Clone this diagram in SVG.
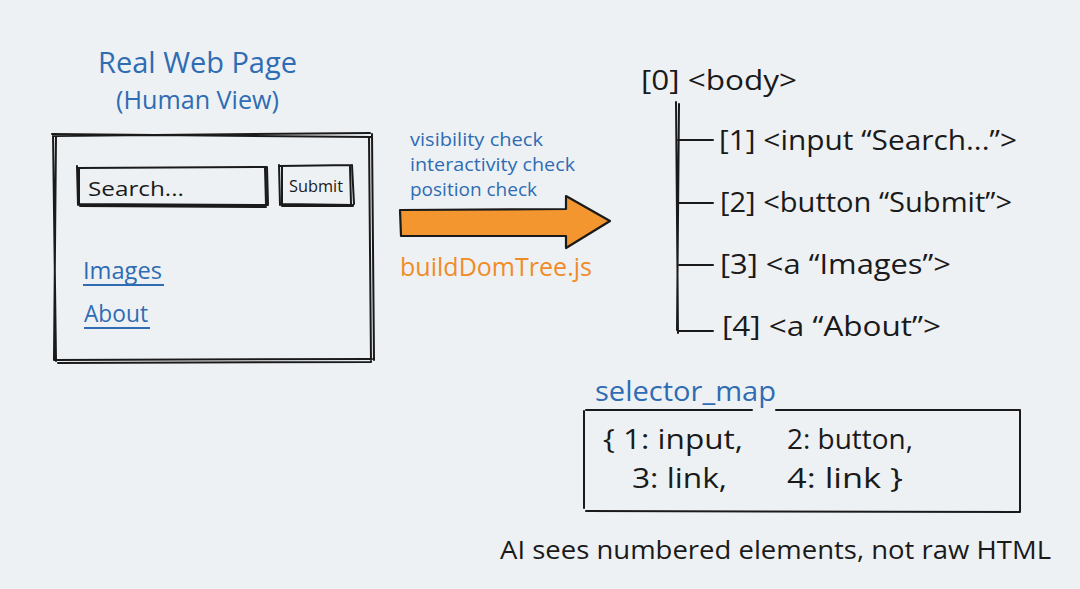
<svg xmlns="http://www.w3.org/2000/svg" width="1080" height="589" viewBox="0 0 1080 589">
<style>
.ink{fill:none;stroke:#1a1a1a;stroke-width:2;stroke-linecap:round;stroke-linejoin:round}
.t{font-family:"Open Sans","DejaVu Sans",sans-serif;fill:#1a1a1a}
.b{fill:#2f6cb3}
.o{fill:#f08c28}
</style>
<rect width="1080" height="589" fill="#eef1f4"/>
<g id="title">
<text class="t b" x="98" y="73" font-size="29" textLength="199" lengthAdjust="spacingAndGlyphs">Real Web Page</text>
<text class="t b" x="116" y="109" font-size="25" textLength="163" lengthAdjust="spacingAndGlyphs">(Human View)</text>
</g>
<g id="page">
<path class="ink" d="M54,136 L370,133 M52,134 L371,137 M53,134 L56,361 M56,135 L54,360 M372,134 L374,360 M369,137 L371,362 M55,360 L372,359 M58,363 L371,362"/>
<g id="searchbox">
<path class="ink" d="M78,168 L266,167 M77,166 L78,205 M79,168 L79,204 M267,167 L268,204 M265,168 L266,205 M78,204 L268,205 M80,206 L266,207"/>
<text class="t" x="88" y="196" font-size="20" textLength="96" lengthAdjust="spacingAndGlyphs">Search...</text>
</g>
<g id="submit">
<path class="ink" d="M280,166 L352,165 M279,165 L280,205 M282,167 L282,204 M352,165 L354,204 M350,167 L351,204 M281,204 L353,205 M282,206 L353,206"/>
<text class="t" x="289" y="192" font-size="17" textLength="54" lengthAdjust="spacingAndGlyphs">Submit</text>
</g>
<g id="images">
<text class="t b" x="83" y="279" font-size="23" textLength="79" lengthAdjust="spacingAndGlyphs">Images</text>
<path d="M83,285 L164,285" stroke="#2f6cb3" stroke-width="2"/>
</g>
<g id="about">
<text class="t b" x="84" y="322" font-size="23" textLength="64" lengthAdjust="spacingAndGlyphs">About</text>
<path d="M84,328 L150,328" stroke="#2f6cb3" stroke-width="2"/>
</g>
</g>
<g id="checks">
<text class="t b" x="410" y="146" font-size="19" textLength="133" lengthAdjust="spacingAndGlyphs">visibility check</text>
<text class="t b" x="410" y="171" font-size="19" textLength="165" lengthAdjust="spacingAndGlyphs">interactivity check</text>
<text class="t b" x="410" y="196" font-size="19" textLength="127" lengthAdjust="spacingAndGlyphs">position check</text>
</g>
<g id="arrow">
<path d="M400,210 L566,209 L566,196 L610,221 L566,248 L566,236 L401,236 Z" fill="#f4962f" stroke="#1a1a1a" stroke-width="2.2" stroke-linejoin="round"/>
<text class="t o" x="400" y="276" font-size="25" textLength="192" lengthAdjust="spacingAndGlyphs">buildDomTree.js</text>
</g>
<g id="tree">
<text class="t" x="641" y="90" font-size="28" textLength="156" lengthAdjust="spacingAndGlyphs">[0] &lt;body&gt;</text>
<text class="t" x="719" y="150" font-size="28" textLength="298" lengthAdjust="spacingAndGlyphs">[1] &lt;input “Search...”&gt;</text>
<text class="t" x="720" y="212" font-size="28" textLength="292" lengthAdjust="spacingAndGlyphs">[2] &lt;button “Submit”&gt;</text>
<text class="t" x="720" y="274" font-size="28" textLength="231" lengthAdjust="spacingAndGlyphs">[3] &lt;a “Images”&gt;</text>
<text class="t" x="722" y="336" font-size="28" textLength="219" lengthAdjust="spacingAndGlyphs">[4] &lt;a “About”&gt;</text>
</g>
<g id="connectors">
<path class="ink" d="M676,102 L678,333 M679,104 L677,330"/>
<path class="ink" d="M678,140 L713,140 M678,203 L713,203 M679,265 L713,265 M678,331 L713,331"/>
</g>
<g id="selector">
<text class="t b" x="595" y="401" font-size="27" textLength="181" lengthAdjust="spacingAndGlyphs">selector_map</text>
<path class="ink" d="M586,410 L752,410 M776,410 L1020,410 M584,411 L584,508 M1020,410 L1020,512 M586,511 L1020,512"/>
<text class="t" x="603" y="449" font-size="27" textLength="140" lengthAdjust="spacingAndGlyphs">{ 1: input,</text>
<text class="t" x="787" y="449" font-size="27" textLength="126" lengthAdjust="spacingAndGlyphs">2: button,</text>
<text class="t" x="632" y="488" font-size="27" textLength="95" lengthAdjust="spacingAndGlyphs">3: link,</text>
<text class="t" x="787" y="488" font-size="27" textLength="116" lengthAdjust="spacingAndGlyphs">4: link }</text>
</g>
<g id="caption">
<text class="t" x="500" y="559" font-size="25" textLength="551" lengthAdjust="spacingAndGlyphs">AI sees numbered elements, not raw HTML</text>
</g>
</svg>
